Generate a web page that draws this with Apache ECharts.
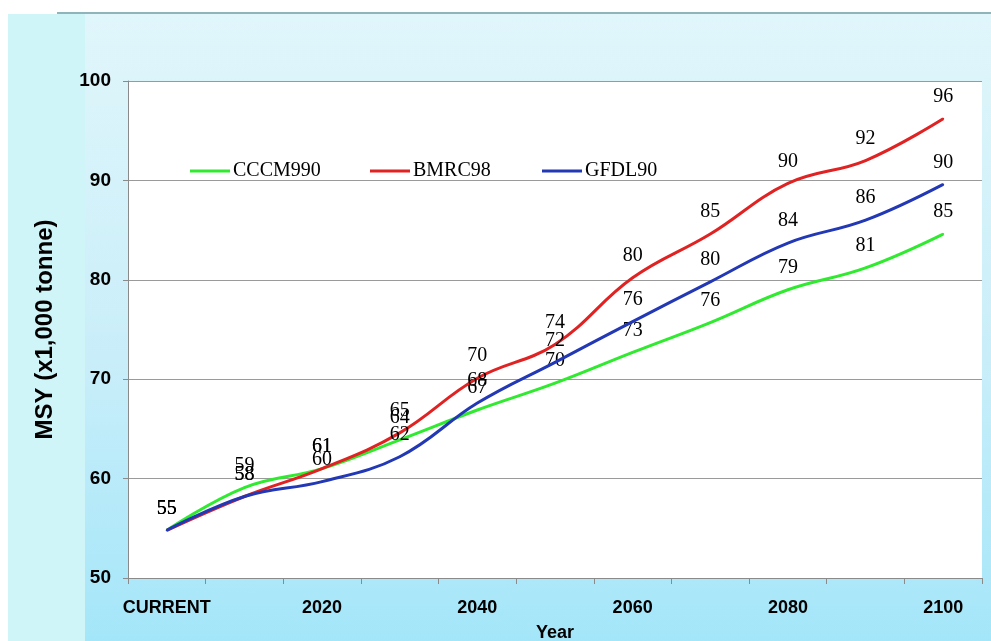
<!DOCTYPE html>
<html><head><meta charset="utf-8">
<script src="https://cdn.jsdelivr.net/npm/echarts@6/dist/echarts.min.js"></script>
<style>
html,body{margin:0;padding:0;background:#fff;}
#wrap{position:relative;width:991px;height:641px;overflow:hidden;background:#fff;}
#bg{position:absolute;left:8px;top:14px;width:983px;height:627px;background:linear-gradient(to bottom,#e0f6fb 0%,#c9eef9 55%,#a4e6f9 100%);}
#strip{position:absolute;left:8px;top:14px;width:77px;height:627px;background:#cff5f8;}
#topline{position:absolute;left:57px;top:12px;width:934px;height:2px;background:#8fb5bb;}
#chart{position:absolute;left:0;top:0;width:991px;height:641px;}
</style></head>
<body><div id="wrap"><div id="bg"></div><div id="strip"></div><div id="topline"></div><div id="chart"></div></div>
<script>
const categories = ['CURRENT','2010','2020','2030','2040','2050','2060','2070','2080','2090','2100'];
const cccm990 = [54.8, 59.1, 61.0, 63.9, 66.9, 69.6, 72.7, 75.7, 79.0, 81.2, 84.6];
const bmrc98  = [54.8, 58.2, 61.0, 64.6, 70.1, 73.5, 80.2, 84.6, 89.7, 92.0, 96.2];
const gfdl90  = [54.8, 58.2, 59.7, 62.2, 67.6, 71.7, 75.8, 79.8, 83.7, 86.0, 89.6];
const yTicks = [50, 60, 70, 80, 90, 100];

const names = ['CCCM990','BMRC98','GFDL90'];
const colors = ['#30ea30','#e02222','#2238b4'];
const datas = [cccm990, bmrc98, gfdl90];

const sans = "'Liberation Sans',Arial,sans-serif";
const serif = "'Liberation Serif','Times New Roman',serif";

const chart = echarts.init(document.getElementById('chart'), null, {renderer:'canvas'});
const legendLefts = [185, 365, 537];
chart.setOption({
  backgroundColor: 'transparent',
  animation: false,
  grid: {left:128, right:9, top:81, bottom:63, show:true, backgroundColor:'#ffffff', borderWidth:0,
         containLabel:false, outerBoundsMode:'none'},
  legend: names.map((n,i)=>({
    data:[n], left:legendLefts[i], top:156, icon:'rect', itemWidth:40, itemHeight:3,
    textStyle:{fontFamily:serif, fontSize:20, color:'#000', padding:[0,0,0,-2]}
  })),
  xAxis: {
    type:'category', data:categories, boundaryGap:true,
    name:'Year', nameLocation:'middle', nameGap:46,
    nameTextStyle:{fontFamily:sans, fontWeight:'bold', fontSize:18, color:'#000'},
    axisLine:{show:true, lineStyle:{color:'#8a8a8a', width:1}},
    axisTick:{show:true, interval:0, length:6, lineStyle:{color:'#8a8a8a'}},
    axisLabel:{interval:1, margin:21, fontFamily:sans, fontWeight:'bold', fontSize:18, color:'#000'},
    splitLine:{show:false}
  },
  yAxis: {
    type:'value', min:yTicks[0], max:yTicks[yTicks.length-1], interval:10,
    name:'MSY (x1,000 tonne)', nameLocation:'middle', nameGap:71, nameRotate:90,
    nameTextStyle:{fontFamily:sans, fontWeight:'bold', fontSize:24, color:'#000'},
    axisLine:{show:true, lineStyle:{color:'#8a8a8a', width:1}},
    axisTick:{show:true, length:5, lineStyle:{color:'#8a8a8a'}},
    axisLabel:{margin:17, fontFamily:sans, fontWeight:'bold', fontSize:19, color:'#000'},
    splitLine:{show:true, lineStyle:{color:'#9a9a9a', width:1}}
  },
  series: names.map((n,i)=>({
    name:n, type:'line', data:datas[i], smooth:0.4,
    symbol:'circle', symbolSize:2,
    itemStyle:{color:colors[i]},
    lineStyle:{color:colors[i], width:3},
    label:{show:true, position:'top', distance:11, fontFamily:serif, fontSize:20, color:'#000',
      formatter:p=>String(Math.round(p.value))},
    z: 2+i
  }))
});
</script>
</body></html>
